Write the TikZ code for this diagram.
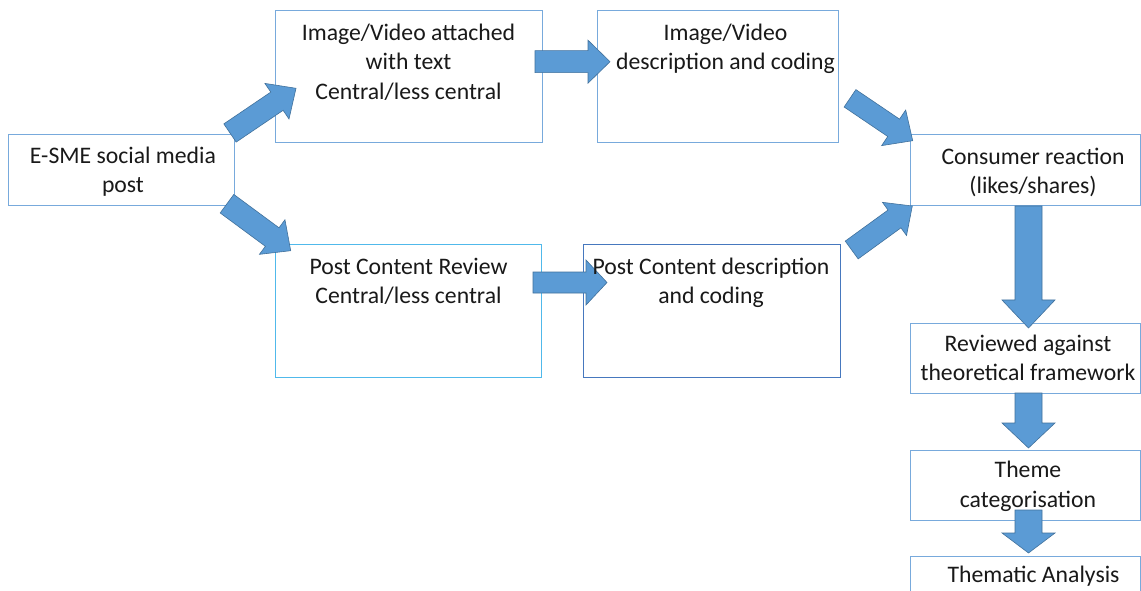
\documentclass[tikz,border=0pt]{standalone}
\usepackage{fontspec}
\setmainfont{Carlito}
\usetikzlibrary{calc}

\definecolor{arrowfill}{RGB}{91,155,213}
\definecolor{arrowedge}{RGB}{65,113,156}
\definecolor{boxedge}{RGB}{120,170,220}
\definecolor{boxcyan}{RGB}{80,185,235}
\definecolor{boxdark}{RGB}{70,120,190}
\definecolor{ink}{RGB}{25,25,25}

% Block arrow from #1 to #2: shaft half-width #3, head half-width #4, head length #5
\newcommand\blockarrow[5]{%
  \coordinate (ba-c) at ($(#2)!#5!(#1)$);
  \draw[barrow]
    ($(#1)!#3!90:(#2)$) -- ($(ba-c)!#3!90:(#2)$) -- ($(ba-c)!#4!90:(#2)$)
    -- (#2)
    -- ($(ba-c)!#4!-90:(#2)$) -- ($(ba-c)!#3!-90:(#2)$) -- ($(#1)!#3!-90:(#2)$)
    -- cycle;
}

\begin{document}
\begin{tikzpicture}[x=1bp,y=-1bp,
  box/.style={draw=boxedge, line width=1bp, inner sep=0pt, outer sep=0pt, anchor=north west},
  txt/.style={font=\fontsize{23.8}{29.8}\selectfont, text=ink, align=center, anchor=north, inner sep=0pt},
  barrow/.style={fill=arrowfill, draw=arrowedge, line width=0.6bp, line join=miter}]

\clip (0,0) rectangle (1141,591);
\fill[white] (0,0) rectangle (1141,591);

% boxes
\node[box, minimum width=226bp, minimum height=71bp] (esme) at (8,135) {};
\node[box, minimum width=267bp, minimum height=132bp] (ivat) at (275,11) {};
\node[box, minimum width=241bp, minimum height=132bp] (ivdc) at (597,11) {};
\node[box, minimum width=230bp, minimum height=71bp] (cons) at (910,135) {};
\node[box, draw=boxcyan, minimum width=266bp, minimum height=132bp] (pcr) at (275,245) {};
\node[box, draw=boxdark, minimum width=257bp, minimum height=132bp] (pcdc) at (583,245) {};
\node[box, minimum width=230bp, minimum height=70bp] (rev) at (910,323) {};
\node[box, minimum width=230bp, minimum height=70bp] (theme) at (910,450) {};
\node[box, minimum width=230bp, minimum height=70bp] (them) at (910,556) {};

% arrow end points
\coordinate (a1s) at ($(esme.north east)+(-4,-2)$);
\coordinate (a1e) at ($(ivat.west)+(21,11.3)$);
\coordinate (a2s) at ($(esme.south east)+(-7,-2.3)$);
\coordinate (a2e) at ($(pcr.north west)+(15.7,5.7)$);
\coordinate (a3s) at ($(ivat.east)+(-7,-15.3)$);
\coordinate (a3e) at ($(ivdc.west)+(13,-15.3)$);
\coordinate (a4s) at ($(pcr.east)+(-8,-28.5)$);
\coordinate (a4e) at ($(pcdc.west)+(24,-28.5)$);
\coordinate (a5s) at ($(ivdc.south east)+(12,-44.7)$);
\coordinate (a5e) at ($(cons.north west)+(2.7,5.7)$);
\coordinate (a6s) at ($(pcdc.north east)+(11.7,5)$);
\coordinate (a6e) at ($(cons.south west)+(2.3,0)$);
\coordinate (a7s) at ($(cons.south)+(3.5,0)$);
\coordinate (a7e) at ($(rev.north)+(3.5,5)$);
\coordinate (a8s) at ($(rev.south)+(3.5,0)$);
\coordinate (a8e) at ($(theme.north)+(3.5,-2)$);
\coordinate (a9s) at ($(theme.south)+(3.5,-10)$);
\coordinate (a9e) at ($(them.north)+(3.5,-3)$);

% block arrows
\blockarrow{a1s}{a1e}{11bp}{21.5bp}{23bp}
\blockarrow{a2s}{a2e}{11.5bp}{21.5bp}{23bp}
\blockarrow{a3s}{a3e}{11bp}{21.5bp}{22bp}
\blockarrow{a4s}{a4e}{10.5bp}{22.5bp}{21bp}
\blockarrow{a5s}{a5e}{10.5bp}{21.5bp}{23bp}
\blockarrow{a6s}{a6e}{11bp}{20.5bp}{22bp}
\blockarrow{a7s}{a7e}{13.5bp}{26.5bp}{28bp}
\blockarrow{a8s}{a8e}{13.5bp}{26.5bp}{25bp}
\blockarrow{a9s}{a9e}{13.5bp}{26.5bp}{20bp}

% texts
\node[txt] (t-esme) at (123,142.1) {\strut E-SME social media\\post};
\node[txt] (t-ivat) at (408.5,19.1) {\strut Image/Video attached\\with text\\Central/less central};
\node[txt] (t-ivdc) at (725.5,19.1) {\strut Image/Video\\description and coding};
\node[txt] (t-cons) at (1033,143.1) {\strut Consumer reaction\\(likes/shares)};
\node[txt] (t-pcr) at (408.5,253.1) {\strut Post Content Review\\Central/less central};
\node[txt] (t-pcdc) at (711,253.1) {\strut Post Content description\\and coding};
\node[txt] (t-rev) at (1028,330.1) {\strut Reviewed against\\theoretical framework};
\node[txt] (t-theme) at (1028,456.8) {\strut Theme\\categorisation};
\node[txt] (t-them) at (1033.5,561.8) {\strut Thematic Analysis};

\end{tikzpicture}
\end{document}
